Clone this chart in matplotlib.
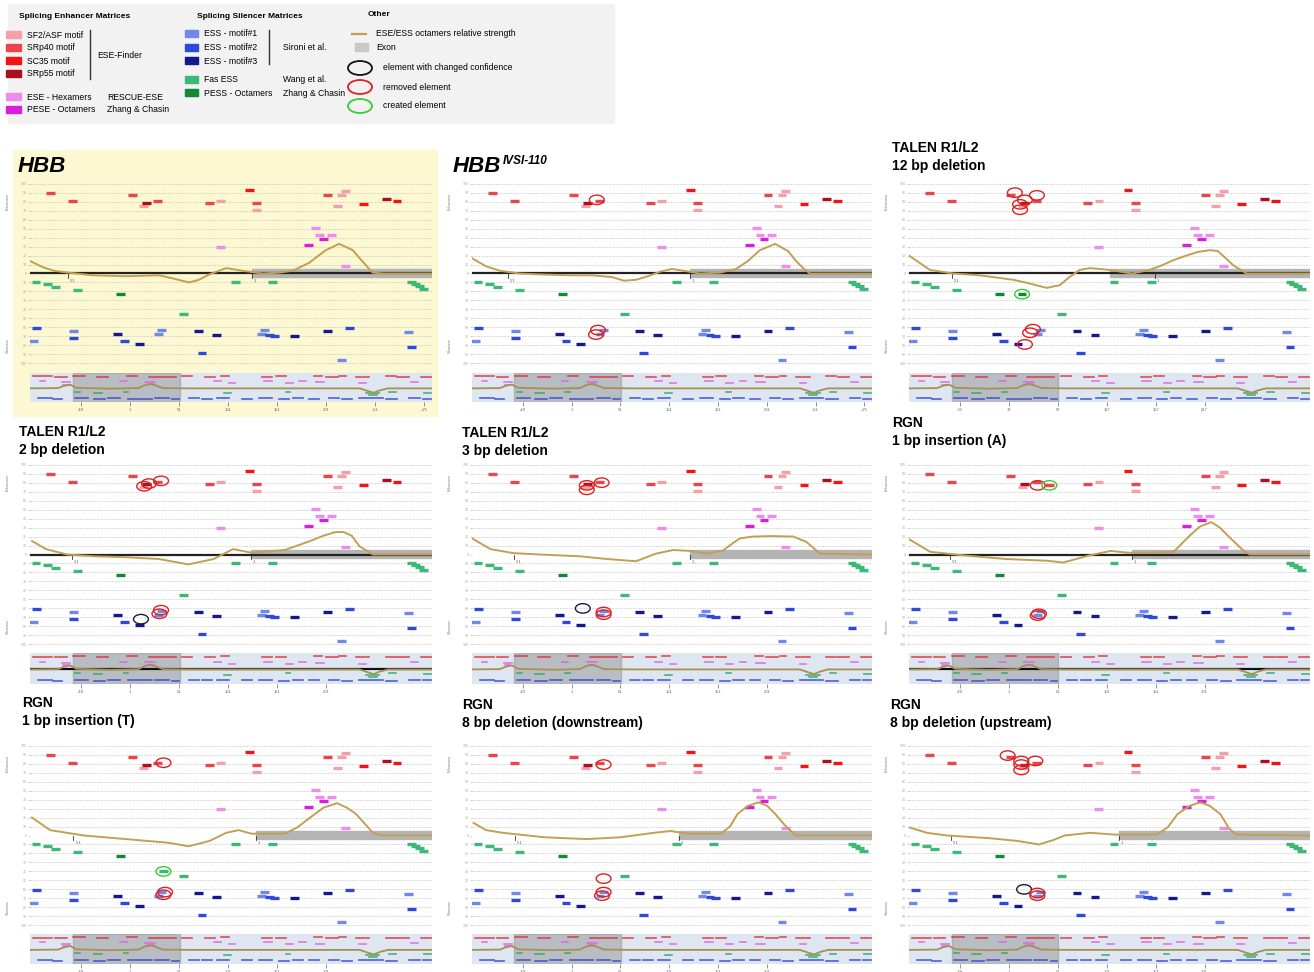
import numpy as np
import matplotlib.pyplot as plt
from matplotlib.patches import Ellipse, Rectangle

W, H = 1314, 972
plt.rcParams['font.family'] = ['Liberation Sans', 'DejaVu Sans']

# element colours (ESE-Finder, RESCUE-ESE, PESE, Sironi ESS, Fas ESS, PESS)
kind_colors = ['#f4a0a8', '#e8454c', '#f01414', '#a8101c', '#ee8cee', '#d81ed8',
               '#7088e8', '#3048d8', '#14188c', '#3cb878', '#108838']

# base element map (position in % of window, score, kind)
el_x = [5.2, 10.6, 25.4, 28.9, 28.3, 31.8, 44.6, 47.4, 54.6, 56.4, 56.4, 74.0, 77.5, 78.4, 76.5,
        83.0, 88.6, 91.3,
        47.3, 71.1, 72.0, 74.9, 73.0, 69.3, 78.4,
        1.5, 4.4, 6.3, 11.9, 22.6, 38.1, 51.1, 60.4, 95.0, 95.8, 96.8, 97.9,
        1.7, 0.8, 10.8, 10.8, 21.8, 23.5, 27.2, 32.0, 32.8, 41.9, 42.8, 46.4, 57.5, 58.4, 59.5,
        60.8, 65.8, 74.0, 79.4, 77.5, 94.2, 95.0]
el_y = [90, 81, 87, 78, 75, 81, 78, 81, 93, 78, 71, 87, 87, 92, 75, 77, 83, 81,
        30, 51, 43, 43, 38, 32, 8,
        -9, -12, -15, -18, -23, -45, -9, -9, -9, -12, -14, -17,
        -61, -75, -64, -72, -67, -75, -78, -67, -63, -64, -88, -68, -67, -63, -68,
        -70, -70, -64, -61, -96, -65, -82]
el_kind = [1, 1, 1, 3, 0, 1, 1, 0, 2, 1, 0, 1, 0, 0, 0, 2, 3, 2,
           4, 4, 4, 4, 5, 5, 4,
           9, 9, 9, 9, 10, 9, 9, 9, 9, 9, 9, 9,
           7, 6, 6, 7, 8, 7, 8, 6, 6, 8, 7, 8, 6, 6, 7,
           7, 8, 8, 7, 6, 6, 7]

titles = [("HBB", ""), ("HBB", "IVSI-110"), ("TALEN R1/L2", "12 bp deletion"),
          ("TALEN R1/L2", "2 bp deletion"), ("TALEN R1/L2", "3 bp deletion"),
          ("RGN", "1 bp insertion (A)"), ("RGN", "1 bp insertion (T)"),
          ("RGN", "8 bp deletion (downstream)"), ("RGN", "8 bp deletion (upstream)")]

# ESE/ESS octamer relative strength curves, per panel
curve_x = [
    [0, 3.2, 6, 9.4, 15.6, 23.9, 32.2, 36, 39.6, 42, 44.6, 48.8, 52.9, 57.9, 62, 65.3, 69.5, 71.5, 73.6, 76.9, 80.3, 82, 83.6, 85.2, 88, 100],
    [0, 3.5, 7, 12, 17, 25, 30, 35, 38, 41, 44, 47, 50, 53, 57, 62, 66, 69, 72, 75.8, 79, 81, 83, 84.5, 100],
    [0, 5.2, 11, 17.6, 26, 30, 34.3, 37.6, 40, 42.6, 45.1, 50, 55.6, 60, 63, 66, 69.2, 72, 75, 77, 79, 80.9, 84.2, 100],
    [0.5, 4, 9.2, 16, 23.8, 32, 39.4, 45.7, 50.5, 55.1, 63.4, 69.7, 73, 76, 78, 80, 82, 85.3, 100],
    [0, 4.6, 10.4, 17, 27, 33.7, 41, 46, 50.3, 54.5, 58.7, 62.8, 65, 67, 70.3, 75, 80.3, 83.6, 87, 100],
    [0, 5.3, 13.7, 24.2, 34.6, 38.4, 45, 50.3, 54.5, 60, 66, 70, 72.5, 75.4, 77.5, 79.5, 83.7, 85, 100],
    [0.5, 5, 13.4, 23.9, 34.3, 39.5, 44.7, 48.8, 51.9, 55.1, 63.4, 66.5, 69.7, 73, 76.4, 78.8, 81.1, 85.3, 87.5, 100],
    [0.4, 3.5, 7.7, 18.2, 28.7, 37, 45.5, 49.6, 54, 62.2, 64.5, 66.4, 69, 71.6, 73.8, 75.8, 78.5, 81, 100],
    [0.1, 4.5, 9.5, 20, 27, 32.4, 36, 38.8, 45.1, 51.4, 61.8, 64.5, 67, 70, 72.6, 75, 77.6, 79.8, 81.6, 100],
]
curve_y = [
    [14, 7, 3, 1, -2, -3, -2, -6, -10, -7, -1, 6, 3, 0, 1, 3, 12, 19, 26, 33, 26, 17, 9, 1, 0, 0],
    [17, 8, 3, 0, -1, -2, -2, -4, -8, -7, -3, 2, 5, 3, 0, 1, 5, 14, 26, 33, 25, 14, 5, 0, 0],
    [20, 4, 0, -2, -7, -11, -16, -13, -4, 4, 6, 4, 0, 4, 9, 15, 20, 24, 26, 25, 17, 9, 0, 0],
    [15, 6, 0, -2, -3, -5, -11, -5, 6, 2, 5, 15, 21, 25, 25, 21, 9, 0, 0],
    [18, 6, 1.5, 0, -2, -5, -7.5, 1, 5, 4, 1, 4.5, 12, 18, 20, 20.5, 20, 14, 1, 0],
    [17, 3, -1, -5, -7, -9, -1, 4, 2, 2, 3, 21, 31, 36, 30, 21, 3, 0, 0],
    [20, 6, 0, -4, -8, -12, -6, 3, 6, 2, 2, 9, 20, 31, 36, 31, 24, 3, 0, 0],
    [14, 6, 3, -2, -4, -2, 3, 5, 2, 2, 10, 24, 33, 37, 33, 24, 10, 0, 0],
    [9, 3, 0, -3, -6, -10, -5, 0, 3, 1, 1, 9, 24, 33, 37, 33, 24, 8, 1, 0],
]
exon_start = [55.1, 54.5, 50.0, 55.0, 54.5, 55.5, 56.2, 51.7, 52.4]
black_axis = [True, True, True, True, False, True, False, False, False]
zero_ticks = [[9.4, 55.1], [9.0, 54.5], [10.6, 61.3], [10.4, 55.0], [10.4, 54.5],
              [10.2, 55.5], [10.8, 56.2], [10.8, 51.7], [10.4, 52.4]]
zero_tick_labels = ["-51", "1"]

# marked elements: (x, score, type) r = removed, g = created, c = changed confidence
marks = [
    [],
    [(31.2, 82, 'r'), (31.5, -63, 'r'), (31.0, -68, 'r')],
    [(26.4, 90, 'r'), (28.9, 82, 'r'), (27.7, 77, 'r'), (27.7, 71, 'r'), (31.9, 87, 'r'),
     (28.2, -23, 'g'), (30.9, -62, 'r'), (30.2, -66, 'r'), (28.9, -79, 'r')],
    [(29.6, 79, 'r'), (32.6, 82, 'r'), (28.4, 76, 'r'), (32.6, -62, 'r'), (32.2, -66, 'r'), (27.6, -72, 'c')],
    [(28.7, 77, 'r'), (28.7, 72, 'r'), (32.4, 80, 'r'), (27.7, -60, 'c'), (32.9, -64, 'r'), (32.9, -67, 'r')],
    [(32.1, 77, 'r'), (35.0, 77, 'g'), (32.4, -66, 'r'), (32.1, -68, 'r')],
    [(33.2, 81, 'r'), (33.2, -40, 'g'), (33.6, -63, 'r'), (33.2, -66, 'r')],
    [(32.9, 79, 'r'), (32.9, -48, 'r'), (32.9, -63, 'r'), (32.5, -67, 'r')],
    [(24.6, 89, 'r'), (28.0, 83, 'r'), (31.5, 83, 'r'), (28.0, 79, 'r'), (28.0, 73, 'r'),
     (28.7, -60, 'c'), (32.0, -64, 'r'), (32.0, -67, 'r')],
]
created = [[], [], [(28.2, -23, 10)], [], [], [(35.0, 77, 1)], [(33.2, -40, 9)], [], []]
mark_colors = {'r': '#e02020', 'g': '#30d030', 'c': '#1c1c3c'}

# overview strip segments (start %, end %, row height)
ov_red = [(0.8, 5.4, .88), (6.2, 9.1, .86), (10.8, 13.7, .9), (16.6, 19.5, .86), (24.1, 26.6, .9),
          (29.5, 36.2, .86), (37.8, 40.3, .88), (43.6, 46.1, .86), (47.4, 49.5, .9), (57.8, 60.3, .86),
          (61.1, 63.6, .88), (70.7, 72.7, .9), (73.6, 76.5, .86), (76.9, 78.6, .9), (81.0, 84.4, .86),
          (88.5, 91.0, .88), (91.4, 94.3, .86), (97.3, 99.8, .86)]
ov_pink = [(2.5, 3.7, .72), (7.9, 10.0, .68), (8.3, 9.6, .6), (22.4, 24.1, .72), (28.7, 31.2, .7),
           (29.2, 30.8, .62), (45.7, 47.4, .72), (49.5, 51.1, .66), (58.2, 60.3, .72), (63.6, 65.3, .66),
           (66.9, 68.6, .72), (71.1, 73.2, .68), (81.9, 83.5, .66), (94.8, 96.4, .7)]
ov_green = [(11.2, 12.5, .36), (15.8, 17.9, .32), (23.3, 24.5, .36), (48.2, 49.9, .3), (63.6, 64.8, .34),
            (83.5, 86.9, .3), (84.3, 86.2, .24), (89.4, 91.0, .34), (98.1, 99.8, .32)]
ov_blue = [(2.1, 5.4, .14), (5.8, 7.9, .1), (11.2, 14.5, .14), (15.8, 18.7, .1), (19.5, 22.4, .14),
           (24.5, 30.3, .12), (31.2, 34.5, .14), (35.3, 37.0, .1), (39.5, 42.0, .14), (42.8, 45.3, .12),
           (46.6, 49.5, .14), (52.8, 55.3, .12), (57.0, 60.3, .14), (61.9, 64.4, .1), (65.3, 67.9, .14),
           (69.4, 71.9, .12), (74.4, 76.9, .14), (77.7, 80.2, .1), (81.9, 87.7, .14), (88.5, 91.4, .1),
           (94.4, 96.9, .14), (97.7, 99.8, .12)]
ov_curve_x = [0, 7, 8.5, 10, 11.5, 20, 27, 28.5, 30, 31.5, 33, 40, 82, 84, 85.5, 87, 89, 100]
ov_curve_y = [.47, .48, .56, .6, .49, .46, .48, .58, .62, .56, .48, .47, .47, .38, .32, .4, .47, .47]
ov_window = (10.6, 37.2)
ov_ticks_long = [12.7, 24.9, 37.1, 49.3, 61.5, 73.7, 85.9, 98.0]
ov_labels_long = ["-49", "1", "51", "101", "151", "201", "+51", "+75"]
ov_labels = [ov_labels_long, ov_labels_long,
             ["-33", "17", "67", "117", "167", "217"]] + [["-49", "1", "51", "101", "151", "201"]] * 6

score_levels = np.arange(-100, 101, 10)

col_x = [(30, 432), (472, 872), (909, 1310)]
row_main = [(181, 366), (462, 647), (743, 928)]
row_ov = [(373, 402), (653, 684), (934, 964)]
title_pos = [(18, 166), (453, 166), (892, 148), (19, 432), (462, 433),
             (892, 423), (22, 703), (462, 705), (890, 705)]

fig = plt.figure(figsize=(W / 100, H / 100), dpi=100)


def px_axes(x0, y0, x1, y1):
    return fig.add_axes([x0 / W, 1 - y1 / H, (x1 - x0) / W, (y1 - y0) / H])


# background / legend layer in pixel coordinates
bg = fig.add_axes([0, 0, 1, 1])
bg.set_xlim(0, W)
bg.set_ylim(H, 0)
bg.axis('off')
bg.add_patch(Rectangle((8, 4), 606, 119, color='#f2f2f2', zorder=0))
bg.add_patch(Rectangle((13, 150), 424, 266, color='#fbf8d2', zorder=0))

fs = 6.2
bg.text(19, 16, "Splicing Enhancer Matrices", fontsize=6, fontweight='bold', va='center')
bg.text(197, 16, "Splicing Silencer Matrices", fontsize=6, fontweight='bold', va='center')
bg.text(368, 15, "Other", fontsize=6, fontweight='bold', va='center')

enh_labels = ["SF2/ASF motif", "SRp40 motif", "SC35 motif", "SRp55 motif", "ESE - Hexamers", "PESE - Octamers"]
enh_rows = [35, 48, 61, 74, 97, 110]
enh_kinds = [0, 1, 2, 3, 4, 5]
for lab, yy, k in zip(enh_labels, enh_rows, enh_kinds):
    bg.add_patch(Rectangle((6, yy - 3.5), 15, 7, color=kind_colors[k]))
    bg.text(27, yy, lab, fontsize=fs, va='center')
bg.plot([90, 90], [30, 79], color='#333333', lw=1)
bg.text(97, 55, "ESE-Finder", fontsize=fs, va='center')
bg.text(107, 97, "RESCUE-ESE", fontsize=fs, va='center')
bg.text(107, 110, "Zhang & Chasin", fontsize=fs, va='center')

sil_labels = ["ESS - motif#1", "ESS - motif#2", "ESS - motif#3", "Fas ESS", "PESS - Octamers"]
sil_rows = [34, 48, 61, 80, 93]
sil_kinds = [6, 7, 8, 9, 10]
for lab, yy, k in zip(sil_labels, sil_rows, sil_kinds):
    bg.add_patch(Rectangle((185, yy - 3.5), 13, 7, color=kind_colors[k]))
    bg.text(204, yy, lab, fontsize=fs, va='center')
bg.plot([269, 269], [30, 64], color='#333333', lw=1)
bg.text(283, 48, "Sironi et al.", fontsize=fs, va='center')
bg.text(283, 80, "Wang et al.", fontsize=fs, va='center')
bg.text(283, 93, "Zhang & Chasin", fontsize=fs, va='center')

bg.plot([352, 366], [34, 34], color='#c2a052', lw=1.6)
bg.text(376, 34, "ESE/ESS octamers relative strength", fontsize=fs, va='center')
bg.add_patch(Rectangle((355, 43), 13, 8, color='#c8c8c8'))
bg.text(376, 47, "Exon", fontsize=fs, va='center')
for yy, t, lab in zip([68, 87, 106], ['c', 'r', 'g'],
                      ["element with changed confidence", "removed element", "created element"]):
    bg.add_patch(Ellipse((360, yy), 24, 14, fill=False, ec=mark_colors[t] if t != 'c' else '#111111', lw=1.3))
    bg.text(383, yy, lab, fontsize=fs, va='center')

# titles
for i, (t1, t2) in enumerate(titles):
    tx, ty = title_pos[i]
    if i < 2:
        t = bg.text(tx, ty, t1, fontsize=16, fontweight='bold', style='italic', va='center')
        if t2:
            bg.annotate(t2, xy=(1, 1), xycoords=t, xytext=(1, 0), textcoords='offset points',
                        fontsize=8.5, fontweight='bold', style='italic', va='top', ha='left')
    else:
        bg.text(tx, ty, t1, fontsize=10, fontweight='bold', va='center')
        bg.text(tx, ty + 18, t2, fontsize=10, fontweight='bold', va='center')

# panels
for i in range(9):
    col, row = i % 3, i // 3
    x0, x1 = col_x[col]
    top, bot = row_main[row]
    ax = px_axes(x0, top, x1, bot)
    ax.set_xlim(0, 100)
    ax.set_ylim(-103, 103)
    ax.patch.set_alpha(0)
    for s in ax.spines.values():
        s.set_visible(False)
    ax.set_xticks([])
    ax.set_yticks(score_levels)
    ax.set_yticklabels([str(abs(v)) for v in score_levels], fontsize=2.6, color='#888888')
    ax.tick_params(axis='y', length=1.5, width=0.4, colors='#aaaaaa', pad=1)
    for g in score_levels:
        if g != 0:
            ax.axhline(g, color='#cdcdcd', lw=0.6, ls=(0, (2, 1.5)), zorder=0)
    ax.text(-5.5, 80, "Enhancers", rotation=90, fontsize=2.6, color='#777777', ha='center', va='center')
    ax.text(-5.5, -80, "Silencers", rotation=90, fontsize=2.6, color='#777777', ha='center', va='center')

    ex = exon_start[i]
    ax.add_patch(Rectangle((ex, -4), 100 - ex, 8.5, color='#b4b4b4', zorder=2))
    if black_axis[i]:
        ax.plot([0, 100], [0, 0], color='#222222', lw=1.6, zorder=3)
    for zt, zl in zip(zero_ticks[i], zero_tick_labels):
        ax.plot([zt, zt], [0, -5], color='#333333', lw=0.6, zorder=3)
        ax.text(zt + 0.5, -8, zl, fontsize=2.8, color='#555555', va='center')

    xs = np.array(el_x)
    ys = np.array(el_y)
    ks = np.array(el_kind)
    for k, c in enumerate(kind_colors):
        m = ks == k
        ax.hlines(ys[m], xs[m] - 1.1, xs[m] + 1.1, color=c, lw=2.4, zorder=4)
    for (cx, cy, ck) in created[i]:
        ax.hlines(cy, cx - 1.1, cx + 1.1, color=kind_colors[ck], lw=2.4, zorder=4)

    ax.plot(curve_x[i], curve_y[i], color='#c2a052', lw=1.4, zorder=5)

    for (mx, my, mt) in marks[i]:
        ax.add_patch(Ellipse((mx, my), 3.7, 10.5, fill=False, ec=mark_colors[mt], lw=1.0, zorder=6))

    # overview strip
    ot, ob = row_ov[row]
    ov = px_axes(x0, ot, x1, ob)
    ov.set_xlim(0, 100)
    ov.set_ylim(0, 1)
    ov.set_facecolor('#dde6f1')
    for s in ov.spines.values():
        s.set_visible(False)
    ov.add_patch(Rectangle((ov_window[0], 0), ov_window[1] - ov_window[0], 1, color='#8c8c8c', alpha=0.45, zorder=1))
    for segs, c in [(ov_red, '#e0303a'), (ov_pink, '#e060e0'), (ov_green, '#30a860'), (ov_blue, '#3848d0')]:
        for a, b, yy in segs:
            ov.plot([a, b], [yy, yy], color=c, lw=1.2, alpha=0.85, zorder=2)
    if black_axis[i] and i in (3, 5):
        ov.axhline(0.47, color='#111111', lw=1.6, zorder=2)
    ov.plot(ov_curve_x, ov_curve_y, color='#a89050', lw=1.3, zorder=3)
    labs = ov_labels[i]
    ov.set_xticks(ov_ticks_long[:len(labs)])
    ov.set_xticklabels(labs, fontsize=3, color='#555555')
    ov.tick_params(axis='x', length=3, width=0.5, colors='#666666', pad=1)
    ov.set_yticks([])

fig.savefig('out.png', dpi=100)
